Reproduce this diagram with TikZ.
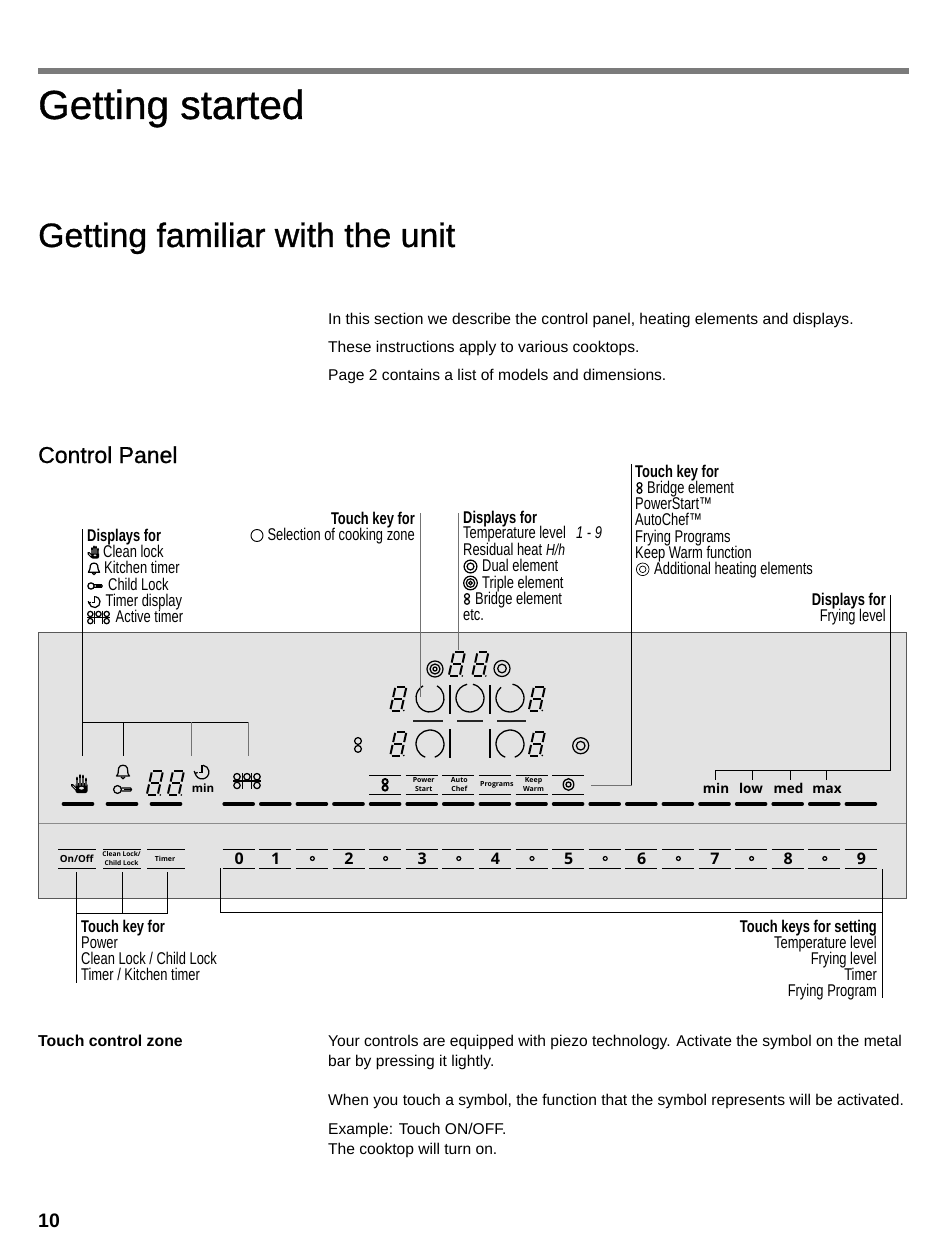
\documentclass[tikz,border=0pt]{standalone}
\usepackage{fontspec}
\setmainfont{Liberation Sans}
\newfontfamily\medfont[FakeBold=0.9]{Liberation Sans}
\newfontfamily\condfont[FakeStretch=0.76]{Liberation Sans}
\newfontfamily\keyfont{Open Sans}
\newcommand{\fsz}[1]{\fontsize{#1}{#1}\selectfont}
\definecolor{panelgray}{HTML}{E3E3E3}
\definecolor{rulegray}{HTML}{7B7B7B}
\tikzset{
  every pic/.style={line width=1.25pt},
  panelbox/.style={fill=panelgray,draw=black!65,line width=0.9pt},
  conn/.style={draw=black,line width=0.8pt},
  conngray/.style={draw=black!55,line width=0.9pt},
  keyline/.style={draw=black,line width=1pt},
  touchbar/.style={draw=black,line width=3.6pt,line cap=round},
  head/.style={anchor=base west,inner sep=0pt,font=\medfont\fsz{40.6}},
  subhead/.style={anchor=base west,inner sep=0pt,font=\medfont\fsz{23}},
  body/.style={anchor=base west,inner sep=0pt,font=\fsz{15.6}},
  lab/.style={anchor=base west,inner sep=0pt,font=\condfont\fsz{17}},
  labb/.style={anchor=base west,inner sep=0pt,font=\condfont\bfseries\fsz{17}},
  rlab/.style={anchor=base east,inner sep=0pt,font=\condfont\fsz{17}},
  rlabb/.style={anchor=base east,inner sep=0pt,font=\condfont\bfseries\fsz{17}},
  numkey/.style={anchor=center,inner sep=0pt,font=\keyfont\bfseries\fsz{16}},
  wordkey/.style={anchor=base,inner sep=0pt,font=\keyfont\bfseries\fsz{13.5}},
  tinykey/.style={anchor=center,align=center,inner sep=0pt,font=\keyfont\bfseries\fontsize{7}{8.3}\selectfont},
  eight/.pic={
    \begin{scope}[xslant=0.22,line width=2pt]
      \draw (1.4,0)--(9.6,0);
      \draw (0,1.4)--(0,10.6);
      \draw (11,1.4)--(11,10.6);
      \draw (1.4,12)--(9.6,12);
      \draw (0,13.4)--(0,22.6);
      \draw (11,13.4)--(11,22.6);
      \draw (1.4,24)--(9.6,24);
      \fill (13.6,24) circle (0.9);
    \end{scope}
  },
  bridge/.pic={
    \draw (0,-4) circle (3.4) (0,3.9) circle (3.4);
  },
  dualring/.pic={
    \draw (0,0) circle (8) (0,0) circle (4.3);
  },
  triplering/.pic={
    \draw (0,0) circle (8) (0,0) circle (5) (0,0) circle (2);
  },
  bell/.pic={
    \draw[line join=round] (-6.5,5) .. controls (-4,3) and (-5,-1) .. (-4.3,-3) .. controls (-3.4,-6.7) and (3.4,-6.7) .. (4.3,-3) .. controls (5,-1) and (4,3) .. (6.5,5) -- cycle;
    \draw (-2,6) .. controls (-1.5,8.2) and (1.5,8.2) .. (2,6);
  },
  keyicon/.pic={
    \draw (-5,0) circle (3.9);
    \draw (-1.2,-1.6)--(8,-1.6)--(9,0)--(8,1.6)--(-1.2,1.6);
    \fill (1,-.7) rectangle (8,.7);
  },
  clockicon/.pic={
    \draw (-6.8,1) arc[start angle=172,end angle=-82,radius=6.9];
    \draw (0,-7)--(0,.5)--(-3,.5);
    \draw (-7.8,-1)--(-6.8,1.5)--(-4.4,0.4);
  },
  gridicon/.pic={
    \draw (-14,0)--(14,0);
    \draw (-4.7,-8)--(-4.7,8) (4.7,-8)--(4.7,8);
    \draw (-10,-4.3) circle (3.2) (0,-4.3) circle (3.2) (10,-4.3) circle (3.2);
    \draw (-10,4.4) circle (3.2) (10,4.4) circle (3.2);
  },
  handicon/.pic={
    \fill[rounded corners=2pt] (-4.5,-1) rectangle (7.5,9);
    \foreach \fx/\ft in {-3/-6,0/-8.5,3/-8,6/-5}{
      \draw[line width=2.8pt,line cap=round] (\fx,\ft)--(\fx,3);
    }
    \draw[line width=2.8pt,line cap=round] (-8,1)--(-3,6);
    \draw[draw=panelgray,line width=.6pt] (-3,-4)--(-3,1.5) (0,-6)--(0,1.5) (3,-6)--(3,1.5) (6,-3)--(6,1.5) (-7.3,1.7)--(-4.2,4.8);
    \fill[panelgray] (1.5,4.2) ellipse (2.4 and 1.4);
  }
}
\newcommand{\zonearc}[4]{\draw[line width=1.3pt] (#1,#2) ++(#3:14) arc[start angle=#3,end angle=#4,radius=14];}
\begin{document}
\begin{tikzpicture}[x=1pt,y=-1pt]
\useasboundingbox (0,0) rectangle (950,1241);
% headings
\fill[rulegray] (38,68) rectangle (909,74);
\node[head] (h1) at (38,119) {Getting started};
\node[head,font=\medfont\fsz{33.8}] (h2) at (38,247) {Getting familiar with the unit};
\node[subhead] (h3) at (38,463) {Control Panel};
\node[body] (i1) at (328,324) {In this section we describe the control panel, heating elements and displays.};
\node[body] (i2) at (328,352) {These instructions apply to various cooktops.};
\node[body] (i3) at (328,380) {Page 2 contains a list of models and dimensions.};
% panel
\path[panelbox] (38.5,632.5) rectangle (906,898.5);
\draw[draw=black!45,line width=1pt] (39,823) -- (906,823);
% touch bars and bottom keys
\foreach \k/\t in {0/0,1/1,2/,3/2,4/,5/3,6/,7/4,8/,9/5,10/,11/6,12/,13/7,14/,15/8,16/,17/9}{
  \pgfmathsetmacro{\xa}{222.7+36.6*\k}
  \pgfmathsetmacro{\xb}{\xa+32}
  \pgfmathsetmacro{\xc}{\xa+16.5}
  \draw[touchbar] (\xa+1.5,804)--(\xb-1.5,804);
  \draw[keyline] (\xa,849)--(\xb,849) (\xa,868)--(\xb,868);
  \ifx\t\empty
    \fill[black] (\xc,858.5) circle (2.6); \fill[panelgray] (\xc,858.5) circle (1.3);
  \else
    \node[numkey] (key\k) at (\xc,858.8) {\t};
  \fi
}
\draw[touchbar] (63.5,804)--(92.5,804);
\draw[touchbar] (107.5,804)--(136.5,804);
\draw[touchbar] (151.5,804)--(180.5,804);
% left keys
\draw[keyline] (58,849)--(96,849) (58,868)--(96,868);
\draw[keyline] (103,849)--(140.5,849) (103,868)--(140.5,868);
\draw[keyline] (147,849)--(185,849) (147,868)--(185,868);
\node[wordkey,font=\keyfont\bfseries\fsz{9.8}] (konoff) at (76.7,862.5) {On/Off};
\node[tinykey,font=\keyfont\bfseries\fontsize{6.6}{8.3}\selectfont] (kclean) at (121.5,858.5) {Clean Lock/\\Child Lock};
\node[tinykey] (ktimer) at (165,858.5) {Timer};
% top keys
\foreach \xa in {369.1,405.7,442.3,478.9,515.5,552.1}{
  \draw[keyline] (\xa,775)--(\xa+32,775) (\xa,794)--(\xa+32,794);
}
\draw[line width=1.9pt] (385.1,781.6) circle (2.6) (385.1,788) circle (2.6);
\node[tinykey] (kpower) at (423.7,784.5) {Power\\Start};
\node[tinykey] (kauto) at (459.3,784.5) {Auto\\Chef};
\node[tinykey] (kprog) at (496.9,785) {Programs};
\node[tinykey] (kkeep) at (533.5,784.5) {Keep\\Warm};
\draw[line width=1.3pt] (568.5,784.5) circle (2.5) (568.5,784.5) ellipse (5.3 and 5.8);
% frying labels
\node[wordkey] (wmin) at (716,793) {min};
\node[wordkey] (wlow) at (751,793) {low};
\node[wordkey] (wmed) at (788.5,793) {med};
\node[wordkey] (wmax) at (827,793) {max};
\node[wordkey,font=\keyfont\bfseries\fsz{11.5}] (wmin2) at (203,792) {min};
% panel icons
\pic at (80,784) {handicon};
\pic[line width=1.1pt] at (123,771) {bell};
\pic[line width=1.1pt] at (122.5,789.5) {keyicon};
\pic at (152,771) {eight};
\pic at (173,771) {eight};
\pic at (202,772) {clockicon};
\pic at (247,781) {gridicon};
\pic[line width=1.5pt] at (358,745) {bridge};
\pic[line width=1.5pt] at (435,669) {triplering};
\pic[line width=1.7pt] at (502,668.5) {dualring};
\pic[line width=1.7pt] at (580.7,745.7) {dualring};
\pic at (454,652) {eight};
\pic at (477.5,652) {eight};
\pic at (395.5,686.5) {eight};
\pic at (534,686.5) {eight};
\pic at (395.5,731.5) {eight};
\pic at (534,731.5) {eight};
% cooking zones
\zonearc{430}{698}{-60}{240}
\zonearc{470}{698}{-78}{258}
\zonearc{510}{698}{-80}{230}
\zonearc{430}{744}{110}{430}
\zonearc{510}{744}{110}{430}
\draw[draw=black,line width=1.6pt] (450,685)--(450,714) (490,685)--(490,714) (450,729)--(450,758) (490,729)--(490,758);
\draw[draw=black!85,line width=1.1pt] (413,721)--(443,721) (457,721)--(483,721) (497,721)--(526,721);
% connectors
\coordinate (a0) at (82.5,529); \coordinate (a1) at (82.5,755.5);
\coordinate (ah) at (82.5,722); \coordinate (ae) at (248,722);
\coordinate (b1) at (123,722); \coordinate (b2) at (123,755.5);
\coordinate (c1) at (191,722); \coordinate (c2) at (191,755.5);
\coordinate (d2) at (248,755.5);
\draw[conn] (a0)--(a1); \draw[conn] (ah)--(ae); \draw[conn] (b1)--(b2);
\draw[conngray] (c1)--(c2); \draw[conngray] (ae)--(d2);
\coordinate (e0) at (420,513); \coordinate (e1) at (420,697);
\coordinate (f0) at (458.7,513); \coordinate (f1) at (458.7,650);
\draw[conngray] (e0)--(e1); \draw[conngray] (f0)--(f1);
\coordinate (g0) at (631.7,464); \coordinate (g1) at (631.7,785); \coordinate (g2) at (591,785);
\draw[conn] (g0)--(g1); \draw[conngray] (g1)--(g2);
\coordinate (m0) at (890.5,595); \coordinate (m1) at (890.5,770.5); \coordinate (m2) at (715.5,770.5);
\coordinate (m3) at (715.5,780); \coordinate (m4) at (752,770.5); \coordinate (m5) at (752,780);
\coordinate (m6) at (790,770.5); \coordinate (m7) at (790,780); \coordinate (m8) at (826.7,770.5); \coordinate (m9) at (826.7,780);
\draw[conn] (m0)--(m1)--(m2)--(m3); \draw[conn] (m4)--(m5); \draw[conn] (m6)--(m7); \draw[conn] (m8)--(m9);
\coordinate (p0) at (76.3,872); \coordinate (p1) at (76.3,983); \coordinate (p2) at (76.3,913);
\coordinate (p3) at (167,913); \coordinate (p4) at (167,872); \coordinate (p5) at (122,913); \coordinate (p6) at (122,872);
\draw[conn] (p0)--(p1); \draw[conn] (p2)--(p3)--(p4); \draw[conn] (p5)--(p6);
\coordinate (q0) at (220.7,868); \coordinate (q1) at (220.7,912.7); \coordinate (q2) at (882,912.7);
\coordinate (q3) at (882,869); \coordinate (q4) at (882,998);
\draw[conn] (q0)--(q1)--(q2); \draw[conn] (q3)--(q4);
% left display legend
\node[labb] (l0) at (87,541) {Displays for};
\pic[scale=.68,line width=.7pt] at (94,552.5) {handicon};
\pic[scale=.85,line width=.7pt] at (94,568) {bell};
\pic[scale=.8,line width=.7pt] at (95,586) {keyicon};
\pic[scale=.8,line width=.7pt] at (94.5,602) {clockicon};
\pic[scale=.82,line width=.6pt] at (98.5,617.5) {gridicon};
\node[lab] (l1) at (103,557) {Clean lock};
\node[lab] (l2) at (104,573.5) {Kitchen timer};
\node[lab] (l3) at (108,590) {Child Lock};
\node[lab] (l4) at (105.5,606.5) {Timer display};
\node[lab] (l5) at (115.5,622.5) {Active timer};
% selection legend
\node[rlabb] (s0) at (415,524.5) {Touch key for};
\draw[line width=.9pt] (257,535.5) circle (6);
\node[rlab] (s1) at (415,540.5) {Selection of cooking zone};
% displays legend
\node[labb] (t0) at (463,523) {Displays for};
\node[lab] (t1) at (463,538.5) {Temperature level};
\node[anchor=base west,inner sep=0pt,font=\condfont\itshape\fsz{17}] (t1b) at (576,538.5) {1 - 9};
\node[lab] (t2) at (463,555) {Residual heat};
\node[anchor=base west,inner sep=0pt,font=\condfont\itshape\fsz{16}] (t2b) at (546,555) {H/h};
\pic[scale=.8,line width=1pt] at (470.5,566.5) {dualring};
\node[lab] (t3) at (482,571.5) {Dual element};
\pic[scale=.85,line width=.85pt] at (470.5,583) {triplering};
\node[lab] (t4) at (482,588) {Triple element};
\pic[scale=.72,line width=.55pt] at (467,599) {bridge};
\node[lab] (t5) at (475,604) {Bridge element};
\node[lab] (t6) at (463,620) {etc.};
% touch key legend
\node[labb] (u0) at (635,477) {Touch key for};
\pic[scale=.72,line width=.55pt] at (639.5,488) {bridge};
\node[lab] (u1) at (647,493) {Bridge element};
\node[lab] (u2) at (635,509) {PowerStart™};
\node[lab] (u3) at (635,525.5) {AutoChef™};
\node[lab] (u4) at (635,542) {Frying Programs};
\node[lab] (u5) at (635,558) {Keep Warm function};
\draw[line width=.7pt] (642.7,569.3) circle (6.3) (642.7,569.3) circle (3.3);
\node[lab] (u6) at (654,574) {Additional heating elements};
% frying legend
\node[rlabb] (v0) at (886,605) {Displays for};
\node[rlab] (v1) at (886,621.5) {Frying level};
% bottom legends
\node[labb] (w0) at (81,932) {Touch key for};
\node[lab] (w1) at (81,948) {Power};
\node[lab] (w2) at (81,964) {Clean Lock / Child Lock};
\node[lab] (w3) at (81,980) {Timer / Kitchen timer};
\node[rlabb] (x0) at (877,932) {Touch keys for setting};
\node[rlab] (x1) at (877,948) {Temperature level};
\node[rlab] (x2) at (877,964) {Frying level};
\node[rlab] (x3) at (877,980) {Timer};
\node[rlab] (x4) at (877,996) {Frying Program};
% lower text
\node[body,font=\bfseries\fsz{15.8}] (z0) at (38,1046) {Touch control zone};
\node[body] (z1) at (328,1046) {Your controls are equipped with piezo technology. Activate the symbol on the metal};
\node[body] (z2) at (328,1066) {bar by pressing it lightly.};
\node[body] (z3) at (328,1105) {When you touch a symbol, the function that the symbol represents will be activated.};
\node[body] (z4) at (328,1134) {Example: Touch ON/OFF.};
\node[body] (z5) at (328,1154) {The cooktop will turn on.};
\node[body,font=\bfseries\fsz{19.5}] (pg) at (38,1227) {10};
\end{tikzpicture}
\end{document}
